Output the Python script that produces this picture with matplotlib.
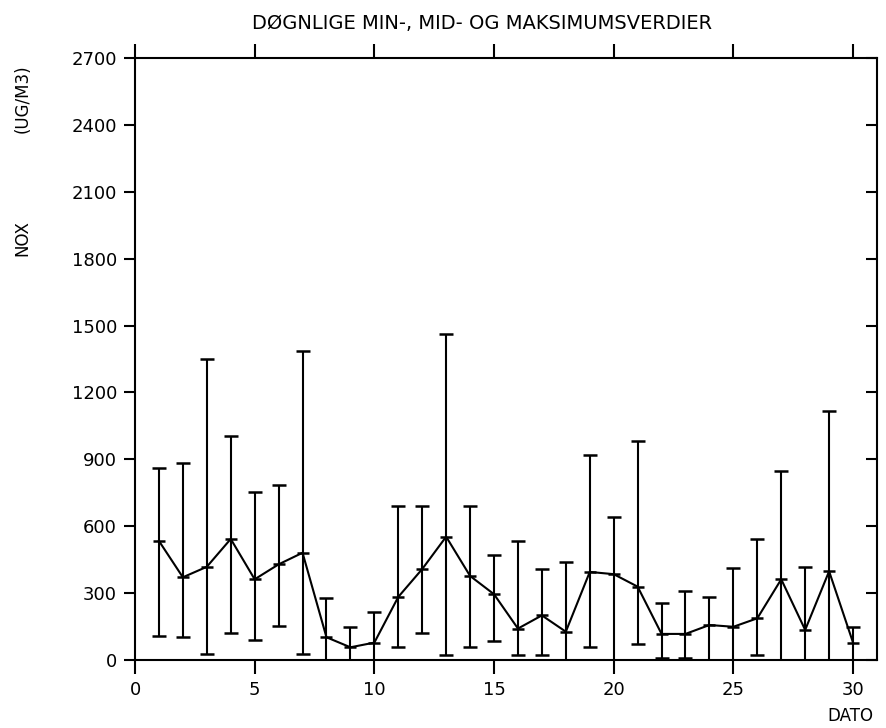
import numpy as np
import matplotlib.pyplot as plt

# daily NOx values (ug/m3), day of month 1-30
dato = list(range(1, 31))
mid = [534, 371, 418, 543, 362, 429, 481, 102, 57, 78,
       283, 408, 553, 377, 295, 141, 200, 127, 395, 385,
       329, 117, 117, 157, 149, 187, 362, 135, 398, 78]
maks = [860, 882, 1350, 1003, 752, 785, 1386, 279, 149, 215,
        692, 692, 1462, 692, 471, 534, 407, 440, 919, 640,
        984, 254, 311, 284, 414, 543, 848, 419, 1117, 149]
minv = [109, 102, 27, 120, 90, 152, 27, 0, 0, 0,
        57, 120, 22, 57, 87, 21, 21, 0, 60, 0,
        72, 8, 9, 0, 0, 24, 0, 0, 0, 0]

x_ticks = [0, 5, 10, 15, 20, 25, 30]
y_ticks = [0, 300, 600, 900, 1200, 1500, 1800, 2100, 2400, 2700]


def main():
    plt.rcParams['font.family'] = ['DejaVu Sans']

    fig = plt.figure(figsize=(8.87, 7.28), dpi=100)
    ax = fig.add_axes([0.1522, 0.0934, 0.8365, 0.8269])

    x = np.array(dato)
    m = np.array(mid)
    lo = m - np.array(minv)
    hi = np.array(maks) - m

    # min/max bars with caps, mean joined by a line
    ax.errorbar(x, m, yerr=[lo, hi], fmt='none', ecolor='black',
                elinewidth=1.5, capsize=5, capthick=1.8)
    ax.plot(x, m, color='black', lw=1.5)
    ax.plot(x, m, linestyle='none', marker='_', ms=9, mew=1.8, color='black')

    ax.set_xlim(0, 31)
    ax.set_ylim(0, 2700)
    ax.set_xticks(x_ticks)
    ax.set_yticks(y_ticks)

    for s in ax.spines.values():
        s.set_linewidth(1.5)

    ax.tick_params(axis='x', which='both', direction='out', length=10,
                   width=1.5, top=True, labelsize=13, pad=5)
    ax.tick_params(axis='y', which='both', direction='out', length=8,
                   width=1.5, labelsize=13, pad=5)

    # inward ticks on the right side, no labels
    ax2 = ax.twinx()
    ax2.set_ylim(0, 2700)
    ax2.set_yticks(y_ticks)
    ax2.tick_params(axis='y', direction='in', length=8, width=1.5,
                    labelright=False)
    for s in ax2.spines.values():
        s.set_visible(False)

    fig.text(0.544, 0.968, 'DØGNLIGE MIN-, MID- OG MAKSIMUMSVERDIER',
             ha='center', va='center', fontsize=14)
    fig.text(0.025, 0.673, 'NOX', rotation=90,
             ha='center', va='center', fontsize=12)
    fig.text(0.025, 0.865, '(UG/M3)', rotation=90,
             ha='center', va='center', fontsize=12)
    fig.text(0.985, 0.016, 'DATO', ha='right', va='center', fontsize=12)

    fig.savefig('out.png', dpi=100)


if __name__ == '__main__':
    main()
